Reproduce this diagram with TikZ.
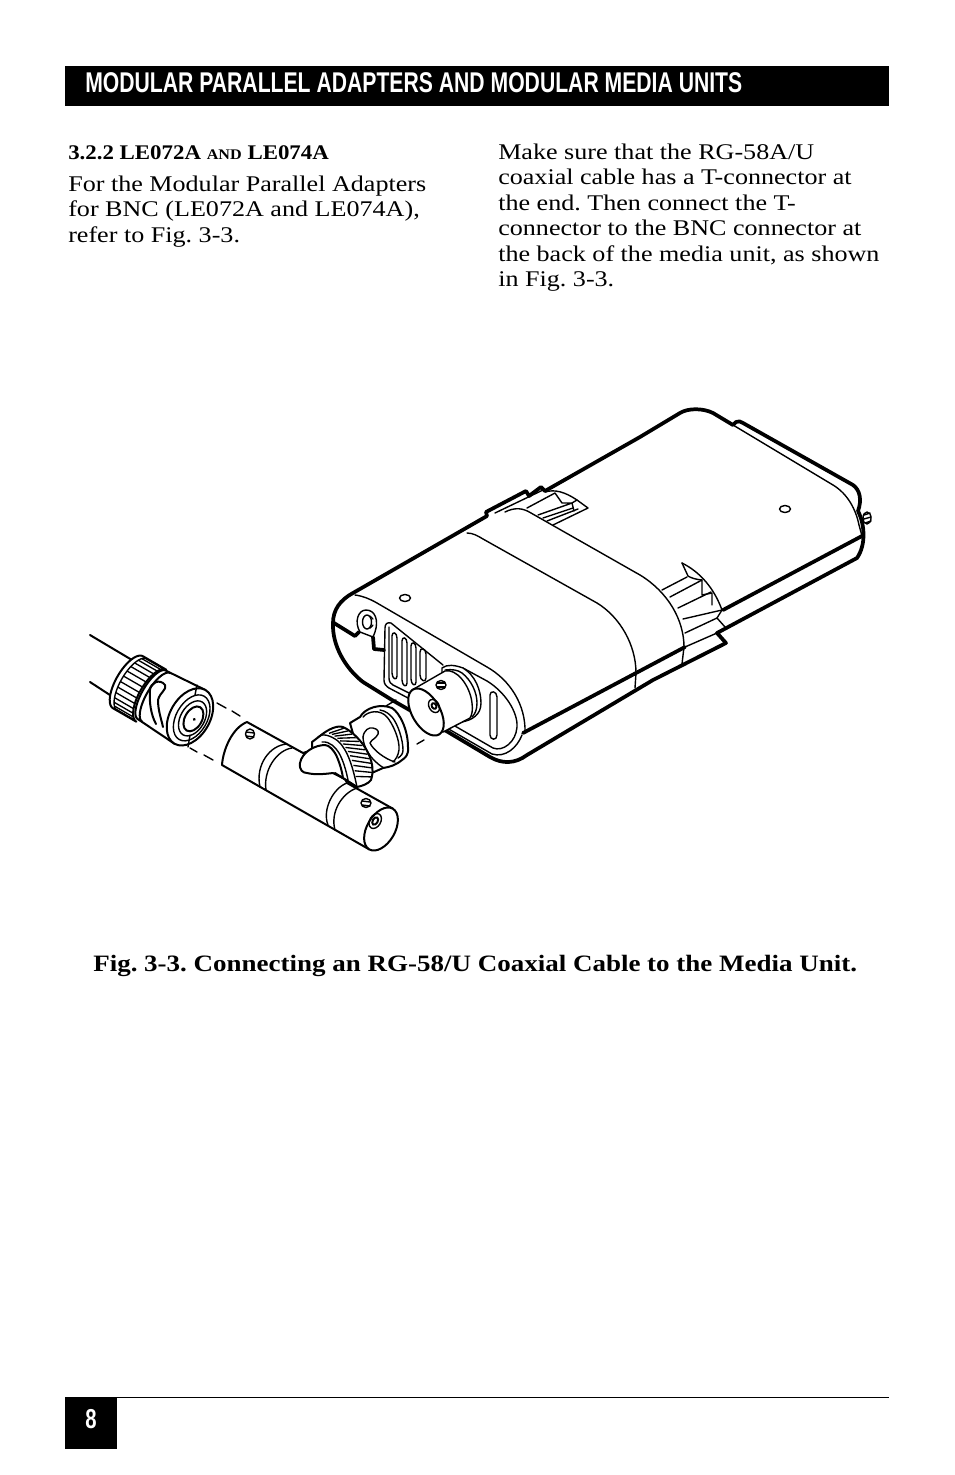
\documentclass[tikz,border=0pt]{standalone}
\usepackage{fontspec}
\setmainfont{Liberation Serif}
\newfontfamily\bodyf[FakeStretch=1.165]{Liberation Serif}
\newfontfamily\boldf[FakeStretch=1.1]{Liberation Serif Bold}
\newfontfamily\capf[FakeStretch=1.15]{Liberation Serif Bold}
\newfontfamily\headf[FakeStretch=0.742]{Liberation Sans Bold}
\tikzset{
  thk/.style={line width=2.8pt,line join=round,line cap=round},
  thn/.style={line width=1.05pt,line join=round,line cap=round},
  mid/.style={line width=1.5pt,line join=round,line cap=round},
  wf/.style={fill=white},
  bodytxt/.style={anchor=base west,inner sep=0pt,font=\bodyf\fontsize{16.8pt}{16.8pt}\selectfont\frenchspacing},
  boldtxt/.style={anchor=base west,inner sep=0pt,font=\boldf\fontsize{15.6pt}{15.6pt}\selectfont\frenchspacing},
}
\begin{document}
\begin{tikzpicture}[x=0.75pt,y=-0.75pt]
\useasboundingbox (0,0) rectangle (954,1475);
\fill[white] (0,0) rectangle (954,1475);
% header / footer
\node[fill=black,minimum width=618pt,minimum height=30pt,inner sep=0pt,anchor=north west] (hdr) at (65,66) {};
\node[anchor=base west,inner sep=0pt,text=white,font=\headf\fontsize{21.4pt}{21.4pt}\selectfont] (hdrtxt) at (85,92.5) {MODULAR PARALLEL ADAPTERS AND MODULAR MEDIA UNITS};
\draw[line width=0.75pt] (65,1397) -- (889,1397);
\node[fill=black,minimum width=39pt,minimum height=38.5pt,inner sep=0pt,anchor=north west] (pg) at (65,1397) {};
\node[anchor=base,inner sep=0pt,text=white,font=\headf\fontsize{20.5pt}{20.5pt}\selectfont] (pgn) at (91,1428) {8};
% text
\node[boldtxt] (t0) at (68,159) {3.2.2 LE072A {\fontsize{11pt}{11pt}\selectfont AND} LE074A};
\node[bodytxt] (t1) at (68,191) {For the Modular Parallel Adapters};
\node[bodytxt] (t2) at (68,216) {for BNC (LE072A and LE074A),};
\node[bodytxt] (t3) at (68,242) {refer to Fig. 3-3.};
\node[bodytxt] (r1) at (498,159) {Make sure that the RG-58A/U};
\node[bodytxt] (r2) at (498,184) {coaxial cable has a T-connector at};
\node[bodytxt] (r3) at (498,210) {the end. Then connect the T-};
\node[bodytxt] (r4) at (498,235) {connector to the BNC connector at};
\node[bodytxt] (r5) at (498,261) {the back of the media unit, as shown};
\node[bodytxt] (r6) at (498,286) {in Fig. 3-3.};
\node[anchor=base west,inner sep=0pt,font=\capf\fontsize{17.6pt}{17.6pt}\selectfont\frenchspacing] (cap) at (93,971) {Fig. 3-3. Connecting an RG-58/U Coaxial Cable to the Media Unit.};
% ---------- media unit
\draw[thk,wf] (353,593) -- (487,516) -- (486,512) -- (526,491) -- (529,496) -- (541,487) -- (545,491) -- (640,437) -- (680,413)
  .. controls (688,408) and (703,408) .. (713,413) -- (733,425) -- (736,422) .. controls (738,421) and (741,421) .. (743,423)
  -- (853,485) .. controls (860,490) and (862,500) .. (858,511) .. controls (865,525) and (866,545) .. (857,558)
  -- (717,633) -- (726,643) -- (653,680) -- (527,755) .. controls (515,764) and (502,764) .. (490,757)
  -- (448,732) -- (392,700) -- (363,682) .. controls (345,668) and (332,645) .. (333,623) .. controls (333,610) and (340,600) .. (353,593);
\draw[thk] (862,536) -- (723,610);
\draw[thk] (685,647) -- (523,733);
\draw[thk] (334,623) -- (355,636) -- (359,632);
\draw[thk] (373,637) -- (374,649) -- (384,650);
% top right inner line
\draw[thn] (733,425) -- (833,485) .. controls (848,494) and (856,510) .. (859,525) -- (862,536);
% face outline
\draw[thn] (355,595) .. controls (363,596) and (370,599) .. (377,603) -- (487,667) .. controls (510,680) and (526,705) .. (525,733);
% strap
\draw[thn] (467,533) .. controls (473,533) and (478,536) .. (483,539) -- (597,603) .. controls (620,617) and (636,645) .. (636,673) -- (635,688);
\draw[thn] (495,513) -- (543,490);
\draw[thn] (505,512) .. controls (515,507) and (523,508) .. (531,513) -- (640,575) .. controls (668,592) and (684,620) .. (684,647) -- (682,664);
% top slot
\draw[thn] (545,492) .. controls (555,489) and (565,492) .. (577,500) -- (588,508) -- (553,525);
\draw[thn] (527,508) -- (555,493) -- (562,503) -- (572,503) -- (538,515);
\draw[thn] (543,518) -- (573,508);
\draw[thn] (547,521) -- (578,509);
\draw[thn] (577,500) -- (572,503) -- (574,511);
% lower slot
\draw[thn] (662,590) -- (687,577);
\draw[thn] (682,563) -- (688,576) .. controls (688,576) and (692,579) .. (702,580);
\draw[thn] (682,563) .. controls (700,572) and (714,588) .. (722,610) -- (717,618) -- (725,627);
\draw[thn] (670,597) -- (702,580) -- (702,595) -- (712,593) -- (712,605);
\draw[thn] (678,608) -- (711,592);
\draw[thn] (683,619) -- (722,610);
\draw[thn] (685,633) -- (717,618);
\draw[thn] (685,647) -- (717,633);
% small holes
\draw[thn] (405,598) ellipse[x radius=5.5,y radius=3.5];
\draw[thn] (785,509) ellipse[x radius=5.5,y radius=3.5];
\draw[thn,wf] (867,518) ellipse[x radius=4,y radius=6];
\draw[thn] (864,515) -- (870,513) (864,519) -- (871,517) (865,523) -- (871,521);
% mount post
\draw[thn,wf] (360,632) .. controls (354,622) and (358,610) .. (366,610) .. controls (375,610) and (379,620) .. (375,632) -- (373,637) -- (360,632);
\draw[thn] (367,622) ellipse[x radius=4.5,y radius=7];
\draw[thn] (370,616) -- (373,619) (370,628) -- (373,625);
% window
\draw[thn] (443,665) -- (391,623) .. controls (387,622) and (385,624) .. (385,628) -- (384,680) .. controls (384,684) and (386,686) .. (389,688) -- (408,698);
\draw[thn] (389,627) -- (389,678) .. controls (389,682) and (391,684) .. (393,685) -- (409,693);
\draw[thn] (463,668) -- (487,681) .. controls (505,692) and (518,712) .. (517,727) .. controls (516,742) and (503,752) .. (493,748) -- (448,722);
\draw[thn] (440,724) -- (492,754) .. controls (505,758) and (517,748) .. (522,735);
\draw[thn] (490,695) .. controls (490,690) and (497,691) .. (497,697) -- (497,735) .. controls (497,741) and (490,740) .. (490,735) -- cycle;
\foreach \xa/\xw/\ya/\yb in {392/5/633/676, 402/5/638/683, 411/5/643/682, 420/6/649/678}{
  \draw[thn] (\xa,\ya+3) .. controls (\xa,\ya-2) and (\xa+\xw,\ya-1) .. (\xa+\xw,\ya+5) -- (\xa+\xw,\yb) .. controls (\xa+\xw,\yb+5) and (\xa,\yb+3) .. (\xa,\yb-3) -- cycle;
}
% device BNC
\draw[thn,wf] (442,668) .. controls (447,664) and (455,665) .. (463,668) .. controls (475,675) and (481,690) .. (481,703) .. controls (481,715) and (472,720) .. (462,722) -- (442,732) -- cycle;
\draw[thn] (445,670) .. controls (452,669) and (458,670) .. (462,673) .. controls (471,680) and (477,692) .. (477,703) .. controls (477,710) and (475,714) .. (472,717);
\draw[thn,wf] (412,690) -- (445,671) .. controls (456,668) and (470,685) .. (472,703) .. controls (473,710) and (472,715) .. (470,718) -- (443,732) -- cycle;
\draw[mid,wf] (426,712) ellipse[x radius=14,y radius=26,rotate=30];
\draw[thn] (434,706) ellipse[x radius=5,y radius=7,rotate=30];
\draw[line width=1.4pt] (434,706) ellipse[x radius=2.2,y radius=3,rotate=30];
\draw[thn,wf] (441,685) ellipse[x radius=5,y radius=4.5];
\draw[thn] (437,683) -- (445,683) (437,687) -- (445,687);
% dashed bits
\draw[thn] (386,706) -- (396,700);
\draw[thn] (417,744) -- (424,740);
\draw[thn] (217,703) -- (226,708) (232,711) -- (240,716);
\draw[thn] (190,748) -- (197,752) (204,755) -- (213,760);
% ---------- T connector body
\draw[mid,wf] (247,722) -- (303,753) -- (328,745) -- (347,783) -- (392.75,808.6) -- (369.25,849.4)
  -- (222,765) .. controls (223,750) and (232,728) .. (247,722);
\begin{scope}[shift={(381,829)},rotate=-30]
 \draw[mid,wf] (0,0) ellipse[x radius=14,y radius=23.5];
 \draw[thn] (-9,-4) ellipse[x radius=5.5,y radius=8];
 \draw[line width=1.5pt] (-9,-4) ellipse[x radius=2.5,y radius=4];
\end{scope}
\draw[thn] (287,744) .. controls (270,745) and (255,765) .. (260,787);
\draw[thn] (292,748) .. controls (277,750) and (263,770) .. (266,790);
\draw[thn] (347,783) .. controls (333,788) and (322,810) .. (328,825);
\draw[thn] (357,788) .. controls (342,793) and (330,812) .. (335,830);
\draw[thn,wf] (250,734) ellipse[x radius=4.5,y radius=5];
\draw[thn] (246,732) -- (254,733) (246,736) -- (254,737);
\draw[thn,wf] (366,803) ellipse[x radius=5,y radius=4.5];
\draw[thn] (362,801) -- (370,802) (362,805) -- (370,806);
% ---------- branch plug: flange, neck, ring, tongue
\draw[mid,wf] (350,723) -- (360,717) .. controls (365,708) and (380,703) .. (392,708) .. controls (400,713) and (408,730) .. (408,747) .. controls (409,755) and (405,758) .. (402,760) .. controls (396,765) and (390,767) .. (383,768) -- (365,776) -- cycle;
\draw[thn] (363,717) .. controls (368,711) and (380,709) .. (387,717) .. controls (393,724) and (400,740) .. (399,750) .. controls (398,756) and (396,759) .. (393,762);
\draw[thn] (380,710) .. controls (386,711) and (389,714) .. (392,717) .. controls (398,724) and (403,740) .. (403,750) .. controls (403,754) and (401,756) .. (398,758);
\draw[thn] (363,737) .. controls (364,730) and (369,727) .. (373,728) .. controls (379,729) and (380,733) .. (376,737) .. controls (373,740) and (370,741) .. (370,743) .. controls (373,750) and (385,759) .. (395,762);
\draw[thn] (363,737) .. controls (363,746) and (370,760) .. (384,768);
% ring
\draw[mid,wf] (312,742) .. controls (319,737) and (325,731) .. (333,728) .. controls (338,726) and (342,726) .. (345,728) .. controls (360,736) and (378,760) .. (371,780) .. controls (368,784) and (362,786) .. (357,787) -- (335,773) -- (312,760) -- cycle;
\foreach \t in {0.03,0.105,...,0.98}{
 \pgfmathsetmacro\u{1-\t}
 \pgfmathsetmacro\ax{\u*\u*\u*328+3*\u*\u*\t*340+3*\u*\t*\t*355+\t*\t*\t*356}
 \pgfmathsetmacro\ay{\u*\u*\u*733+3*\u*\u*\t*736+3*\u*\t*\t*755+\t*\t*\t*782}
 \pgfmathsetmacro\bx{\u*\u*\u*343+3*\u*\u*\t*360+3*\u*\t*\t*378+\t*\t*\t*370}
 \pgfmathsetmacro\by{\u*\u*\u*727+3*\u*\u*\t*738+3*\u*\t*\t*762+\t*\t*\t*781}
 \draw[line width=1pt] (\ax,\ay) -- (\bx,\by);
}
\draw[thn] (318,737) .. controls (322,733) and (330,735) .. (338,741) .. controls (348,750) and (353,768) .. (357,787);
% tongue
\draw[mid,wf] (337,757) .. controls (334,750) and (329,745) .. (325,745) .. controls (315,745) and (302,752) .. (300,763) .. controls (299,770) and (303,773) .. (307,773) .. controls (315,775) and (325,774) .. (333,773) -- (343,778) .. controls (342,771) and (340,764) .. (337,757);
\draw[thn] (322,742) .. controls (330,741) and (336,748) .. (339,753) .. controls (343,760) and (346,770) .. (348,780);
\draw[mid] (335,773) -- (357,787);
% ---------- cable plug
\draw[mid] (90,635) -- (132,660);
\draw[mid] (90,682) -- (113,697);
\begin{scope}[shift={(90,658)},rotate=-30]
 \draw[mid,wf] plot[domain=90:270,samples=30,variable=\a] ({45+12*cos(\a)},{2+30*sin(\a)}) -- plot[domain=270:90,samples=30,variable=\a] ({72+12*cos(\a)},{2+30*sin(\a)}) -- cycle;
 \draw[thn] plot[domain=90:270,samples=30,variable=\a] ({50+12*cos(\a)},{2+30*sin(\a)});
 \foreach \a in {102,114,...,258}{\draw[line width=1pt] ({50+12*cos(\a)},{2+30*sin(\a)}) -- ({72+12*cos(\a)},{2+30*sin(\a)});}
 \draw[mid,wf] plot[domain=90:270,samples=30,variable=\a] ({72+10*cos(\a)},{1+28*sin(\a)}) -- (116,-30) -- (116,32) -- cycle;
 \draw[mid] plot[domain=90:270,samples=30,variable=\a] ({77+10*cos(\a)},{1+28*sin(\a)});
 \draw[mid,wf] (116,1) ellipse[x radius=20,y radius=31];
 \draw[thn] (118,1) ellipse[x radius=15.5,y radius=25];
 \draw[thn] (119,1) ellipse[x radius=12,y radius=19];
 \draw[mid] (120,1) ellipse[x radius=8.5,y radius=13.5];
 \fill (121,1) circle[radius=1.6];
\end{scope}
\draw[thn] (197,685) -- (195,695) (188,747) -- (190,735);
\draw[mid] (150,690) .. controls (150,683) and (160,678) .. (165,685) .. controls (167,690) and (160,692) .. (158,700) .. controls (158,710) and (161,718) .. (163,727);
\draw[mid] (150,690) .. controls (149,702) and (151,715) .. (156,724);
\end{tikzpicture}
\end{document}
